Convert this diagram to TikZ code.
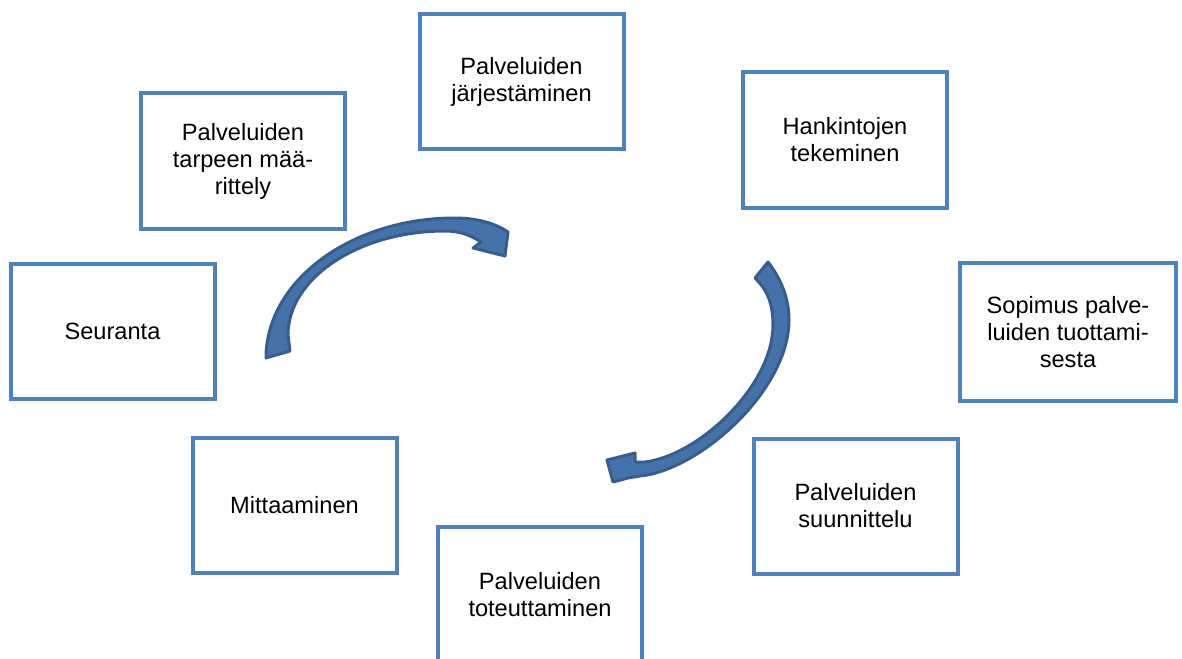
\documentclass[tikz,border=0pt]{standalone}
\usepackage{fontspec}
\setmainfont{Liberation Sans}
\usetikzlibrary{positioning}
\definecolor{boxblue}{HTML}{4F81BD}
\definecolor{ribbonfill}{HTML}{4672AA}
\definecolor{ribbonedge}{HTML}{385D8A}

\begin{document}
\begin{tikzpicture}[x=1pt,y=-1pt,
  phase/.style={draw=boxblue,line width=4pt,fill=white,minimum width=204pt,
                minimum height=135pt,inner sep=0pt,align=center,
                font=\fontsize{23.6pt}{27pt}\selectfont},
  ribbon/.style={fill=ribbonfill,draw=ribbonedge,line width=3pt,line join=round}]
\useasboundingbox (0,0) rectangle (1182,658);
\node[phase] (jarj) at (521.5,81.5) {Palveluiden\\järjestäminen};
\node[phase] (tarve) at (243,161) {Palveluiden\\tarpeen mää-\\rittely};
\node[phase] (hank) at (845,140) {Hankintojen\\tekeminen};
\node[phase] (seur) at (112.5,331) {Seuranta};
\node[phase,minimum width=216pt,minimum height=138pt] (sopimus) at (1068,332)
  {Sopimus palve-\\luiden tuottami-\\sesta};
\node[phase] (mitt) at (294.5,505) {Mittaaminen};
\node[phase] (suun) at (855.5,506) {Palveluiden\\suunnittelu};
\node[phase] (tot) at (540,594.5) {Palveluiden\\toteuttaminen};
% curved arrows
\path[ribbon] (266,358) .. controls (266,281) and (351,218) .. (455,218)
  .. controls (480,218) and (498,225) .. (508,232)
  -- (505,256) -- (473,248) -- (481,242)
  .. controls (470,235) and (460,231) .. (445,231)
  .. controls (359,231) and (288,278) .. (288,335)
  -- (290,351) -- cycle;
\path[ribbon] (768,262) .. controls (782,280) and (789,300) .. (789,320)
  .. controls (789,390) and (700,470) .. (640,476)
  -- (628,478) -- (613,482) -- (607,460) -- (635,453) -- (635,462)
  -- (645,462) .. controls (700,455) and (773,385) .. (773,325)
  .. controls (773,300) and (765,288) .. (755,278) -- cycle;
\end{tikzpicture}
\end{document}
